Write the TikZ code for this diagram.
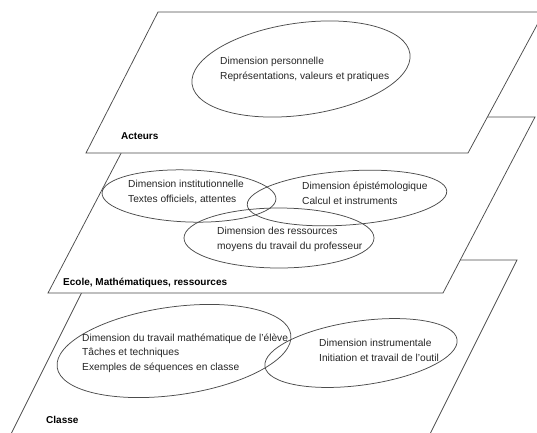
\documentclass[tikz,border=0pt]{standalone}
\usepackage{fontspec}
\setmainfont{Liberation Sans}
\usepackage{tikz}
\usetikzlibrary{arrows, shapes, positioning}

\begin{document}
\begin{tikzpicture}[x=1pt,y=-1pt,
  plane/.style={draw=black!70, fill=white, line width=0.75pt},
  dim/.style={draw=black!70, line width=0.75pt},
  dim text/.style={align=left, inner sep=0pt, anchor=west,
  font=\fontsize{10.2}{14.5}\selectfont, text=black!85},
  layer/.style={inner sep=0pt, anchor=west,
  font=\fontsize{10}{12}\selectfont\bfseries}]
  \useasboundingbox (0,0) rectangle (537,432);
  \clip (0,0) rectangle (537,432);

  % Classe (bottom plane)
  \filldraw[plane] (98,260) -- (517,260) -- (422,450) -- (3,450) -- cycle;
  \draw[dim, rotate around={8:(174,351)}] (174,351) ellipse (118 and 44);
  \draw[dim, rotate around={8:(361,353)}] (361,353) ellipse (97 and 32);
  \node[dim text] (M1) at (82,353) {Dimension du travail math\'ematique de l'\'el\`eve\\T\^aches et techniques\\Exemples de s\'equences en classe};
  \node[dim text] (M2) at (319,350.5) {Dimension instrumentale\\Initiation et travail de l'outil};
  \node[layer] (L3) at (46,420) {Classe};

  % Ecole, Mathematiques, ressources
  \filldraw[plane] (140,117) -- (535,117) -- (443,293) -- (48,293) -- cycle;
  \draw[dim, rotate around={-2:(189,196)}] (189,196) ellipse (87 and 26);
  \draw[dim, rotate around={4:(347,198)}] (347,198) ellipse (100 and 27);
  \draw[dim] (279,238) ellipse (95 and 30);
  \node[dim text] (E1) at (128,192) {Dimension institutionnelle\\Textes officiels, attentes};
  \node[dim text] (E2) at (302,193.5) {Dimension \'epist\'emologique\\Calcul et instruments};
  \node[dim text] (E3) at (217,239.5) {Dimension des ressources\\moyens du travail du professeur};
  \node[layer] (L2) at (63,283) {Ecole, Math\'ematiques, ressources};

  % Acteurs (top plane)
  \filldraw[plane] (158,12) -- (544,12) -- (468,153) -- (86,153) -- cycle;
  \draw[dim, rotate around={8:(301,69)}] (301,69) ellipse (110 and 46);
  \node[dim text] (A1) at (220,69.5) {Dimension personnelle\\Repr\'esentations, valeurs et pratiques};
  \node[layer] (L1) at (121,136) {Acteurs};
\end{tikzpicture}
\end{document}
